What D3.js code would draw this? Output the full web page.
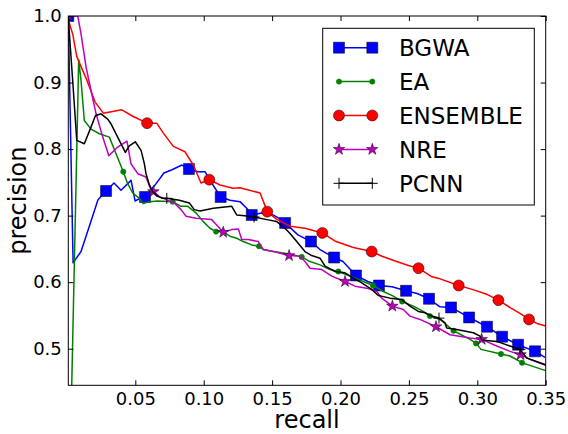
<!DOCTYPE html>
<html>
<head>
<meta charset="utf-8">
<script src="https://cdn.jsdelivr.net/npm/d3@7/dist/d3.min.js"></script>
<style>
  html, body { margin: 0; padding: 0; background: #fff; }
  svg { display: block; font-family: "DejaVu Sans", sans-serif; }
</style>
</head>
<body>
<svg id="chart" width="568" height="434"></svg>
<script>
// Precision-recall curves. Each point is [recall, precision]; a third value of 1 marks a plotted marker.
const bgwa = [
  [0.001, 1.0, 1], [0.0045, 0.629], [0.0103, 0.646], [0.0162, 0.683], [0.0227, 0.724],
  [0.0286, 0.737, 1], [0.0344, 0.749], [0.0395, 0.738], [0.0469, 0.753], [0.0498, 0.722],
  [0.0534, 0.726], [0.0571, 0.728, 1], [0.0637, 0.744], [0.0709, 0.764], [0.0768, 0.769],
  [0.0841, 0.776], [0.0892, 0.770, 1], [0.0958, 0.766], [0.1009, 0.766], [0.1046, 0.753],
  [0.1124, 0.728, 1], [0.1192, 0.723], [0.1265, 0.721], [0.1314, 0.711], [0.1351, 0.701, 1],
  [0.1424, 0.704], [0.1507, 0.701], [0.1558, 0.695], [0.1595, 0.689, 1], [0.1689, 0.671],
  [0.1784, 0.661, 1], [0.1850, 0.649], [0.1953, 0.637, 1], [0.2018, 0.631], [0.2113, 0.610, 1],
  [0.2200, 0.601], [0.2281, 0.595, 1], [0.2376, 0.593], [0.2479, 0.587, 1], [0.2560, 0.583],
  [0.2647, 0.575, 1], [0.2727, 0.563], [0.2808, 0.562, 1], [0.2940, 0.547, 1], [0.3071, 0.533, 1],
  [0.3181, 0.518, 1], [0.3298, 0.506, 1], [0.3422, 0.496, 1], [0.3495, 0.487]
];
const ea = [
  [0.002, 0.300, 1], [0.0086, 0.934], [0.0103, 0.903], [0.0127, 0.843], [0.0176, 0.830],
  [0.0237, 0.823], [0.0310, 0.818], [0.0359, 0.793], [0.0412, 0.766, 1], [0.0444, 0.748],
  [0.0481, 0.734], [0.0529, 0.726], [0.0558, 0.718], [0.0602, 0.721], [0.0664, 0.722],
  [0.0773, 0.721, 1], [0.0834, 0.714], [0.0883, 0.714], [0.0944, 0.704], [0.0997, 0.691],
  [0.1046, 0.681], [0.1090, 0.676, 1], [0.1143, 0.676], [0.1192, 0.669], [0.1241, 0.666],
  [0.1289, 0.661], [0.1351, 0.656], [0.1404, 0.654, 1], [0.1436, 0.649], [0.1509, 0.646],
  [0.1582, 0.644], [0.1655, 0.641], [0.1716, 0.638, 1], [0.1777, 0.631], [0.1850, 0.626],
  [0.1923, 0.619], [0.1984, 0.616, 1], [0.2070, 0.609], [0.2167, 0.601], [0.2238, 0.595, 1],
  [0.2313, 0.586], [0.2386, 0.579], [0.2450, 0.571, 1], [0.2532, 0.564], [0.2605, 0.556],
  [0.2654, 0.549, 1], [0.2728, 0.544], [0.2826, 0.527, 1], [0.2947, 0.514], [0.2991, 0.508, 1],
  [0.3027, 0.499], [0.3173, 0.492, 1], [0.3239, 0.489], [0.3327, 0.479, 1], [0.3385, 0.475],
  [0.3499, 0.467]
];
const ensemble = [
  [0.0010, 0.994], [0.0042, 0.973], [0.0072, 0.939], [0.0145, 0.904], [0.0205, 0.871],
  [0.0266, 0.854], [0.0401, 0.859], [0.0485, 0.849], [0.0586, 0.839, 1], [0.0656, 0.839],
  [0.0705, 0.824], [0.0778, 0.804], [0.0863, 0.796], [0.0924, 0.776], [0.0980, 0.749],
  [0.1041, 0.754, 1], [0.1119, 0.746], [0.1214, 0.741], [0.1265, 0.742], [0.1412, 0.734],
  [0.1465, 0.706, 1], [0.1529, 0.695], [0.1631, 0.684], [0.1740, 0.681], [0.1867, 0.674, 1],
  [0.1967, 0.661], [0.2094, 0.652], [0.2228, 0.646, 1], [0.2303, 0.639], [0.2411, 0.631],
  [0.2496, 0.625], [0.2570, 0.621, 1], [0.2669, 0.608], [0.2728, 0.605], [0.2864, 0.595, 1],
  [0.2981, 0.588], [0.3078, 0.581], [0.3154, 0.573, 1], [0.3246, 0.561], [0.3312, 0.553],
  [0.3378, 0.544, 1], [0.3436, 0.538], [0.3500, 0.534]
];
const nre = [
  [0.001, 1.0, 1], [0.0079, 1.0], [0.0103, 0.973], [0.0140, 0.923], [0.0176, 0.888],
  [0.0213, 0.853], [0.0262, 0.818], [0.0306, 0.790], [0.0371, 0.803], [0.0439, 0.812],
  [0.0468, 0.778], [0.0518, 0.763], [0.0578, 0.758], [0.0615, 0.738], [0.0632, 0.736, 1],
  [0.0675, 0.729], [0.0724, 0.724], [0.0785, 0.719], [0.0834, 0.709], [0.0871, 0.699],
  [0.0944, 0.696], [0.1058, 0.694], [0.1095, 0.686], [0.1143, 0.675, 1], [0.1205, 0.679],
  [0.1253, 0.680], [0.1278, 0.664], [0.1326, 0.664], [0.1399, 0.661], [0.1436, 0.649],
  [0.1509, 0.646], [0.1624, 0.640, 1], [0.1704, 0.639], [0.1740, 0.631], [0.1777, 0.621],
  [0.1863, 0.619], [0.1936, 0.609], [0.2033, 0.601, 1], [0.2106, 0.594], [0.2192, 0.591],
  [0.2265, 0.586], [0.2301, 0.576], [0.2379, 0.564, 1], [0.2459, 0.559], [0.2508, 0.549],
  [0.2581, 0.544], [0.2698, 0.533, 1], [0.2801, 0.521], [0.2947, 0.516], [0.3032, 0.514, 1],
  [0.3142, 0.504], [0.3239, 0.496], [0.3316, 0.491, 1], [0.3385, 0.484], [0.3499, 0.475]
];
const pcnn = [
  [0.001, 1.0, 1], [0.0018, 0.973], [0.0042, 0.903], [0.0072, 0.813], [0.0127, 0.808],
  [0.0176, 0.833], [0.0208, 0.850], [0.0249, 0.853], [0.0298, 0.845], [0.0322, 0.838],
  [0.0383, 0.813], [0.0427, 0.795], [0.0456, 0.805], [0.0500, 0.811], [0.0542, 0.798],
  [0.0566, 0.778], [0.0578, 0.763], [0.0602, 0.747], [0.0627, 0.736], [0.0664, 0.729],
  [0.0700, 0.726], [0.0730, 0.726, 1], [0.0822, 0.723], [0.0895, 0.719], [0.0931, 0.709],
  [0.0973, 0.707], [0.1070, 0.711], [0.1205, 0.714], [0.1241, 0.701], [0.1338, 0.699],
  [0.1368, 0.698, 1], [0.1461, 0.694], [0.1534, 0.691], [0.1594, 0.681], [0.1631, 0.673],
  [0.1680, 0.661], [0.1740, 0.646], [0.1789, 0.640], [0.1850, 0.636], [0.1887, 0.624],
  [0.1960, 0.616], [0.2033, 0.614], [0.2094, 0.606], [0.2155, 0.599], [0.2228, 0.589],
  [0.2276, 0.580], [0.2362, 0.576], [0.2446, 0.574], [0.2508, 0.564], [0.2569, 0.556],
  [0.2618, 0.554], [0.2667, 0.549], [0.2720, 0.546, 1], [0.2764, 0.539], [0.2776, 0.531],
  [0.2849, 0.529], [0.2971, 0.524], [0.3020, 0.519], [0.3032, 0.513], [0.3142, 0.511],
  [0.3239, 0.504], [0.3312, 0.499, 1], [0.3361, 0.486], [0.3499, 0.476]
];

const recallTicks = [0.05, 0.10, 0.15, 0.20, 0.25, 0.30, 0.35];
const recallTickLabels = ["0.05", "0.10", "0.15", "0.20", "0.25", "0.30", "0.35"];
const precisionTicks = [0.5, 0.6, 0.7, 0.8, 0.9, 1.0];
const precisionTickLabels = ["0.5", "0.6", "0.7", "0.8", "0.9", "1.0"];
const seriesNames = ["BGWA", "EA", "ENSEMBLE", "NRE", "PCNN"];
const recallRange = [0.001, 0.35];
const precisionRange = [0.445, 1.0];

// Series styling
const styles = {
  BGWA:     { color: "#0000ff", marker: "square" },
  EA:       { color: "#008000", marker: "dot" },
  ENSEMBLE: { color: "#ff0000", marker: "circle" },
  NRE:      { color: "#bf00bf", marker: "star" },
  PCNN:     { color: "#000000", marker: "plus" }
};
const seriesData = { BGWA: bgwa, EA: ea, ENSEMBLE: ensemble, NRE: nre, PCNN: pcnn };

const svg = d3.select("#chart");
const plot = { left: 68.3, top: 16, right: 545.7, bottom: 385.3 };

const x = d3.scaleLinear().domain(recallRange).range([plot.left, plot.right]);
const y = d3.scaleLinear().domain(precisionRange).range([plot.bottom, plot.top]);

svg.append("defs").append("clipPath").attr("id", "plot-clip")
  .append("rect")
  .attr("x", plot.left).attr("y", plot.top)
  .attr("width", plot.right - plot.left).attr("height", plot.bottom - plot.top);

function drawMarker(g, type, color) {
  if (type === "square") {
    g.append("path").attr("d", d3.symbol(d3.symbolSquare, 121)())
      .attr("fill", color).attr("stroke", "#000").attr("stroke-width", 0.5);
  } else if (type === "circle") {
    g.append("circle").attr("r", 5.5)
      .attr("fill", color).attr("stroke", "#000").attr("stroke-width", 0.5);
  } else if (type === "dot") {
    g.append("circle").attr("r", 2.7).attr("fill", color).attr("stroke", color).attr("stroke-width", 0.5);
  } else if (type === "star") {
    g.append("path").attr("d", d3.symbol(d3.symbolStar, 42)())
      .attr("fill", color).attr("stroke", "#000").attr("stroke-width", 0.5);
  } else if (type === "plus") {
    g.append("path").attr("d", "M-5.5,0H5.5M0,-5.5V5.5")
      .attr("fill", "none").attr("stroke", color).attr("stroke-width", 1);
  }
}

const line = d3.line().x(d => x(d[0])).y(d => y(d[1]));
const plotArea = svg.append("g").attr("clip-path", "url(#plot-clip)");

seriesNames.forEach(name => {
  const data = seriesData[name];
  const st = styles[name];
  const g = plotArea.append("g");
  g.append("path").datum(data).attr("d", line)
    .attr("fill", "none").attr("stroke", st.color).attr("stroke-width", 1.5)
    .attr("stroke-linejoin", "round");
  data.filter(d => d[2]).forEach(d => {
    const m = g.append("g").attr("transform", `translate(${x(d[0])},${y(d[1])})`);
    drawMarker(m, st.marker, st.color);
  });
});

// Axes with inward ticks on all four sides
const bottomAxis = d3.axisBottom(x).tickValues(recallTicks)
  .tickFormat((d, i) => recallTickLabels[i]).tickSizeInner(-5).tickSizeOuter(0).tickPadding(7);
const leftAxis = d3.axisLeft(y).tickValues(precisionTicks)
  .tickFormat((d, i) => precisionTickLabels[i]).tickSizeInner(-5).tickSizeOuter(0).tickPadding(6.5);
const topAxis = d3.axisTop(x).tickValues(recallTicks).tickFormat("").tickSizeInner(-5).tickSizeOuter(0);
const rightAxis = d3.axisRight(y).tickValues(precisionTicks).tickFormat("").tickSizeInner(-5).tickSizeOuter(0);

function styleAxis(g) {
  g.select(".domain").remove();
  g.selectAll(".tick line").attr("stroke", "#000").attr("stroke-width", 1);
  g.selectAll(".tick text").attr("fill", "#000").style("font-size", "18px")
    .style("font-family", "'DejaVu Sans', sans-serif");
}

svg.append("g").attr("transform", `translate(0,${plot.bottom})`).call(bottomAxis).call(styleAxis);
svg.append("g").attr("transform", `translate(${plot.left},0)`).call(leftAxis).call(styleAxis);
svg.append("g").attr("transform", `translate(0,${plot.top})`).call(topAxis).call(styleAxis);
svg.append("g").attr("transform", `translate(${plot.right},0)`).call(rightAxis).call(styleAxis);

svg.append("rect")
  .attr("x", plot.left).attr("y", plot.top)
  .attr("width", plot.right - plot.left).attr("height", plot.bottom - plot.top)
  .attr("fill", "none").attr("stroke", "#000").attr("stroke-width", 1);

// Axis titles
svg.append("text").attr("x", (plot.left + plot.right) / 2).attr("y", 428)
  .attr("text-anchor", "middle").style("font-size", "24px").text("recall");
svg.append("text")
  .attr("transform", `translate(26,${(plot.top + plot.bottom) / 2}) rotate(-90)`)
  .attr("text-anchor", "middle").style("font-size", "24px").text("precision");

// Legend
const legend = svg.append("g");
legend.append("rect").attr("x", 322.7).attr("y", 28.3).attr("width", 211.6).attr("height", 176.7)
  .attr("fill", "#fff").attr("stroke", "#000").attr("stroke-width", 1);
seriesNames.forEach((name, i) => {
  const st = styles[name];
  const ly = 47.7 + i * 33.9;
  const row = legend.append("g").attr("transform", `translate(0,${ly})`);
  row.append("line").attr("x1", 339).attr("x2", 372.3).attr("y1", 0).attr("y2", 0)
    .attr("stroke", st.color).attr("stroke-width", 1.5);
  [339, 372.3].forEach(mx => drawMarker(row.append("g").attr("transform", `translate(${mx},0)`), st.marker, st.color));
  row.append("text").attr("x", 399).attr("y", 0).attr("dy", "0.36em")
    .style("font-size", "23px").attr("fill", "#000").text(name);
});
</script>
</body>
</html>
